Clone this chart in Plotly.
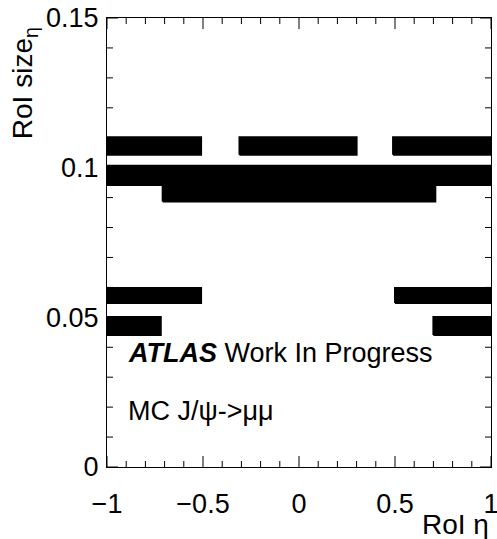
import plotly.graph_objects as go

# RoI bands: eta range and RoI size range of each dense region
band_eta_min = [-1.0, -0.31, 0.49, -1.0, -0.71, -1.0, 0.50, -1.0, 0.70]
band_eta_max = [-0.51, 0.30, 1.0, 1.0, 0.71, -0.51, 1.0, -0.72, 1.0]
band_size_min = [0.1043, 0.1043, 0.1043, 0.0942, 0.0887, 0.0548, 0.0548, 0.0441, 0.0441]
band_size_max = [0.1102, 0.1102, 0.1102, 0.1006, 0.0945, 0.0598, 0.0598, 0.0501, 0.0501]

x_range = [-1, 1]
y_range = [0, 0.15]
x_major, x_minor = 0.5, 0.1
y_major, y_minor = 0.05, 0.01

FONT = "Liberation Sans"
MAJ_LEN, MIN_LEN = 11, 6

fig = go.Figure()
for e0, e1, s0, s1 in zip(band_eta_min, band_eta_max, band_size_min, band_size_max):
    fig.add_trace(go.Scatter(
        x=[e0, e1, e1, e0, e0], y=[s0, s0, s1, s1, s0],
        mode="lines", fill="toself", fillcolor="black",
        line=dict(color="black", width=2), hoverinfo="skip", showlegend=False))

axis_common = dict(
    showgrid=False, zeroline=False, showline=True, linecolor="black", linewidth=1,
    mirror=True, ticks="",
    tickfont=dict(family=FONT, size=27, color="black"), ticklabeloverflow="allow",
    automargin=False,
)

fig.update_xaxes(range=x_range, tick0=-1, dtick=x_major, ticklabelstandoff=13, **axis_common)
fig.update_yaxes(range=y_range, tick0=0, dtick=y_major, ticklabelstandoff=2, **axis_common)

# ROOT-style inside ticks on all four sides (axis decoration, positions follow the axis steps)
tick_line = dict(color="black", width=1)
nx = int(round((x_range[1] - x_range[0]) / x_minor))
for k in range(nx + 1):
    xv = x_range[0] + k * x_minor
    is_major = abs((xv - x_range[0]) / x_major - round((xv - x_range[0]) / x_major)) < 1e-6
    L = MAJ_LEN if is_major else MIN_LEN
    for anchor, sign in ((0, 1), (1, -1)):
        fig.add_shape(type="line", xref="x", yref="paper", ysizemode="pixel", yanchor=anchor,
                      x0=xv, x1=xv, y0=0, y1=sign * L, line=tick_line, layer="above")
ny = int(round((y_range[1] - y_range[0]) / y_minor))
for k in range(ny + 1):
    yv = y_range[0] + k * y_minor
    is_major = abs((yv - y_range[0]) / y_major - round((yv - y_range[0]) / y_major)) < 1e-6
    L = MAJ_LEN if is_major else MIN_LEN
    for anchor, sign in ((0, 1), (1, -1)):
        fig.add_shape(type="line", xref="paper", yref="y", xsizemode="pixel", xanchor=anchor,
                      x0=0, x1=sign * L, y0=yv, y1=yv, line=tick_line, layer="above")

fig.update_layout(
    width=497, height=539,
    margin=dict(l=107, r=6, t=18, b=72, autoexpand=False),
    plot_bgcolor="white", paper_bgcolor="white",
    font=dict(family=FONT, color="black"),
    annotations=[
        dict(text="<b><i>ATLAS</i></b>&nbsp;Work In Progress", xref="paper", yref="paper",
             x=0.05, y=0.253, xanchor="left", yanchor="middle", showarrow=False,
             font=dict(family=FONT, size=27, color="black")),
        dict(text="MC J/\u03c8->\u03bc\u03bc", xref="paper", yref="paper",
             x=0.05, y=0.125, xanchor="left", yanchor="middle", showarrow=False,
             font=dict(family=FONT, size=27, color="black")),
        dict(text="RoI \u03b7", xref="paper", yref="paper",
             x=1.0, y=-0.088, xanchor="right", yanchor="top", showarrow=False,
             font=dict(family=FONT, size=28, color="black")),
        dict(text="RoI size<sub>\u03b7</sub>", xref="paper", yref="paper",
             x=-0.215, y=0.985, xanchor="center", yanchor="top", textangle=-90, showarrow=False,
             font=dict(family=FONT, size=28, color="black")),
    ],
)

fig.write_html("out.html")
